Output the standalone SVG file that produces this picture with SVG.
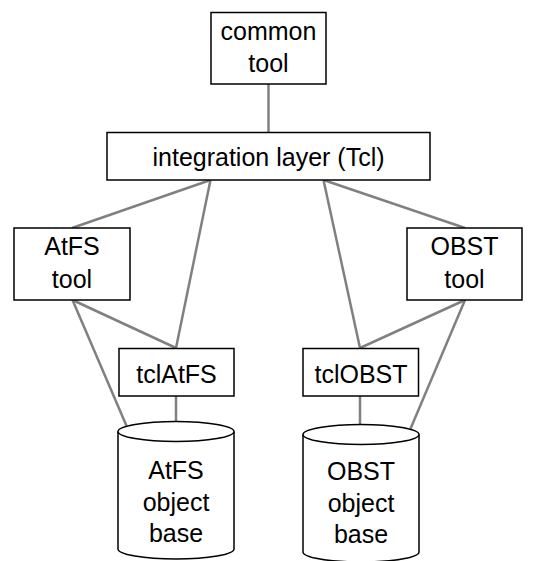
<svg xmlns="http://www.w3.org/2000/svg" width="543" height="561" viewBox="0 0 543 561">
<style>
.box{fill:#fff;stroke:#000;stroke-width:1.5}
.conn line{stroke:#808080;stroke-width:2.5}
text{font-family:"Liberation Sans",Arial,sans-serif;font-size:25px;fill:#000;text-anchor:middle}
</style>
<rect width="543" height="561" fill="#fff"/>
<g id="connectors" class="conn">
<line x1="268.5" y1="84" x2="268.5" y2="132"/>
<line x1="210.5" y1="180" x2="72" y2="228"/>
<line x1="210.5" y1="180" x2="176" y2="348"/>
<line x1="323.5" y1="180" x2="465" y2="228"/>
<line x1="323.5" y1="180" x2="360" y2="348"/>
<line x1="72.5" y1="300" x2="176" y2="348"/>
<line x1="72.5" y1="300" x2="130" y2="434"/>
<line x1="465" y1="300" x2="360" y2="348"/>
<line x1="465" y1="300" x2="407" y2="437"/>
<line x1="176" y1="396" x2="176" y2="436"/>
<line x1="360" y1="396" x2="360" y2="439"/>
</g>
<g id="common-tool">
<rect class="box" x="211" y="12.5" width="115" height="71.5"/>
<text x="268.5" y="39.5">common</text>
<text x="268.5" y="71.5">tool</text>
</g>
<g id="integration-layer">
<rect class="box" x="107" y="132.5" width="323" height="47.5"/>
<text x="268.5" y="166">integration layer (Tcl)</text>
</g>
<g id="atfs-tool">
<rect class="box" x="14" y="228" width="116" height="72"/>
<text x="72" y="255">AtFS</text>
<text x="72" y="288">tool</text>
</g>
<g id="obst-tool">
<rect class="box" x="407" y="228" width="115" height="72"/>
<text x="464.5" y="255">OBST</text>
<text x="464.5" y="288">tool</text>
</g>
<g id="tclatfs">
<rect class="box" x="119" y="348.5" width="115" height="47.5"/>
<text x="176.5" y="383">tclAtFS</text>
</g>
<g id="tclobst">
<rect class="box" x="303" y="348.5" width="115.5" height="47.5"/>
<text x="361" y="383">tclOBST</text>
</g>
<g id="atfs-base">
<path class="box" d="M118,431.5 L118,549 A58,10 0 0 0 234,549 L234,431.5" fill="#fff"/>
<ellipse class="box" cx="176" cy="431.5" rx="58" ry="10" fill="none"/>
<text x="176" y="479">AtFS</text>
<text x="176" y="511">object</text>
<text x="176" y="542">base</text>
</g>
<g id="obst-base">
<path class="box" d="M303,434.5 L303,552 A58,10 0 0 0 419,552 L419,434.5" fill="#fff"/>
<ellipse class="box" cx="361" cy="434.5" rx="58" ry="10" fill="none"/>
<text x="361" y="480">OBST</text>
<text x="361" y="512">object</text>
<text x="361" y="543">base</text>
</g>
</svg>
